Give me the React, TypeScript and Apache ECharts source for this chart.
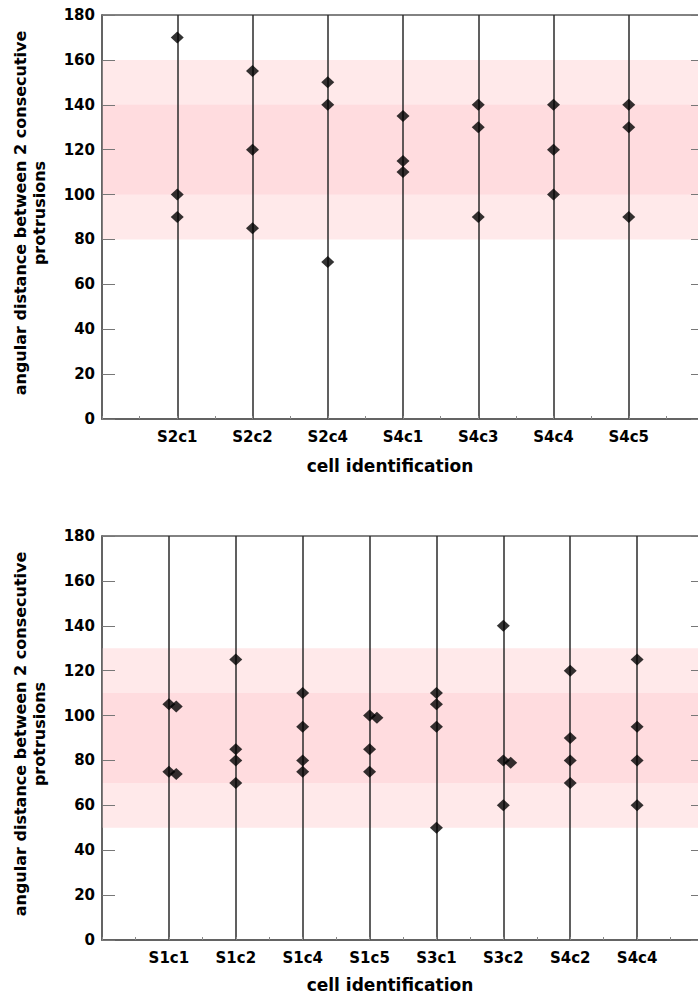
import React, { useEffect, useRef } from "react";
import * as echarts from "echarts";

// Upper panel: cells and the angles between consecutive protrusions
const upperCells = ["S2c1", "S2c2", "S2c4", "S4c1", "S4c3", "S4c4", "S4c5"];
const upperAngles = [
  [170, 100, 90],
  [155, 120, 85],
  [150, 140, 70],
  [135, 115, 110],
  [140, 130, 90],
  [140, 120, 100],
  [140, 130, 90],
];
const upperOuterBand = [80, 160];
const upperInnerBand = [100, 140];

// Lower panel
const lowerCells = ["S1c1", "S1c2", "S1c4", "S1c5", "S3c1", "S3c2", "S4c2", "S4c4"];
const lowerAngles = [
  [105, 75],
  [125, 85, 80, 70],
  [110, 95, 80, 75],
  [100, 85, 75],
  [110, 105, 95, 50],
  [140, 80, 60],
  [120, 90, 80, 70],
  [125, 95, 80, 60],
];
// near-duplicate values, drawn just beside the cell's line
const lowerAnglesBeside = [[104, 74], [], [], [99], [], [79], [], []];
const lowerOuterBand = [50, 130];
const lowerInnerBand = [70, 110];

const yTicks = [0, 20, 40, 60, 80, 100, 120, 140, 160, 180];

const BESIDE_SHIFT = 0.11;
const FONT = "DejaVu Sans";
const LIGHT_PINK = "#ffe9ea";
const DARK_PINK = "#ffdcdf";
const LINE_COLOR = "#2b2b2b";
const FRAME_COLOR = "#5a5a5a";

function points(angles: number[][], shift = 0) {
  const out: number[][] = [];
  angles.forEach((vals, i) => vals.forEach((v) => out.push([i + 1 + shift, v])));
  return out;
}

function xAxisFor(grid: number, cells: string[]) {
  return {
    type: "value",
    gridIndex: grid,
    min: 0,
    max: cells.length + 1,
    interval: 0.5,
    z: 10,
    axisLine: { show: true, lineStyle: { color: FRAME_COLOR, width: 1.5 } },
    axisTick: { show: true, inside: true, length: 3, lineStyle: { color: "#888" } },
    splitLine: { show: false },
    axisLabel: {
      margin: 10,
      color: "#000",
      fontFamily: FONT,
      fontWeight: "bold",
      fontSize: 15,
      showMinLabel: true,
      showMaxLabel: true,
      formatter: (v: number) =>
        Number.isInteger(v) && v >= 1 && v <= cells.length ? cells[v - 1] : "",
    },
  };
}

function yAxesFor(grid: number) {
  const base = {
    type: "value",
    gridIndex: grid,
    min: yTicks[0],
    max: yTicks[yTicks.length - 1],
    interval: 20,
    z: 10,
    splitLine: { show: false },
    axisTick: { show: true, inside: true, length: 13, lineStyle: { color: "#777" } },
  };
  return [
    {
      ...base,
      position: "left",
      axisLine: { show: true, lineStyle: { color: FRAME_COLOR, width: 1.5 } },
      axisLabel: {
        margin: 7,
        color: "#000",
        fontFamily: FONT,
        fontWeight: "bold",
        fontSize: 15,
      },
    },
    {
      ...base,
      position: "right",
      axisLine: { show: true, lineStyle: { color: FRAME_COLOR, width: 1.5 } },
      axisLabel: { show: false },
    },
  ];
}

function panelSeries(
  axis: number,
  cells: string[],
  angles: number[][],
  beside: number[][],
  outer: number[],
  inner: number[]
) {
  const marker = {
    type: "scatter",
    xAxisIndex: axis,
    yAxisIndex: axis * 2,
    symbol: "diamond",
    symbolSize: [13, 12],
    itemStyle: { color: "#000" },
    z: 4,
    silent: true,
  };
  return [
    {
      ...marker,
      name: "angles" + axis,
      data: points(angles),
      markArea: {
        silent: true,
        z: 1,
        data: [
          [{ yAxis: outer[0], itemStyle: { color: LIGHT_PINK } }, { yAxis: outer[1] }],
          [{ yAxis: inner[0], itemStyle: { color: DARK_PINK } }, { yAxis: inner[1] }],
        ],
      },
      markLine: {
        silent: true,
        z: 2,
        symbol: ["none", "none"],
        label: { show: false },
        lineStyle: { color: LINE_COLOR, width: 1.5, type: "solid" },
        emphasis: { disabled: true },
        data: cells.map((_, i) => ({ xAxis: i + 1 })),
      },
    },
    {
      ...marker,
      name: "beside" + axis,
      data: points(beside, BESIDE_SHIFT),
    },
  ];
}

function axisNames(yCenter: number, xNameY: number) {
  return [
    {
      type: "text",
      x: 30,
      y: yCenter,
      rotation: Math.PI / 2,
      style: {
        text: "angular distance between 2 consecutive\nprotrusions",
        font: `bold 16px "${FONT}"`,
        fill: "#000",
        align: "center",
        verticalAlign: "middle",
        lineHeight: 19,
      },
    },
    {
      type: "text",
      x: 390,
      y: xNameY,
      style: {
        text: "cell identification",
        font: `bold 17px "${FONT}"`,
        fill: "#000",
        align: "center",
        verticalAlign: "middle",
      },
    },
  ];
}

export default function App() {
  const ref = useRef<HTMLDivElement>(null);

  useEffect(() => {
    if (!ref.current) return;
    const chart = echarts.init(ref.current, undefined, { renderer: "svg" });
    const gridBase = {
      left: 102,
      right: -6,
      height: 404,
      show: true,
      borderColor: FRAME_COLOR,
      borderWidth: 1.5,
      containLabel: false,
      outerBoundsMode: "none",
    };
    chart.setOption({
      animation: false,
      backgroundColor: "#fff",
      grid: [
        { ...gridBase, top: 15 },
        { ...gridBase, top: 536 },
      ],
      xAxis: [xAxisFor(0, upperCells), xAxisFor(1, lowerCells)],
      yAxis: [...yAxesFor(0), ...yAxesFor(1)],
      series: [
        ...panelSeries(0, upperCells, upperAngles, upperAngles.map(() => []), upperOuterBand, upperInnerBand),
        ...panelSeries(1, lowerCells, lowerAngles, lowerAnglesBeside, lowerOuterBand, lowerInnerBand),
      ],
      graphic: [...axisNames(213, 466), ...axisNames(734, 985)],
    });
    return () => chart.dispose();
  }, []);

  return (
    <div
      ref={ref}
      style={{ position: "absolute", left: 0, top: 0, width: 698, height: 998 }}
    />
  );
}
